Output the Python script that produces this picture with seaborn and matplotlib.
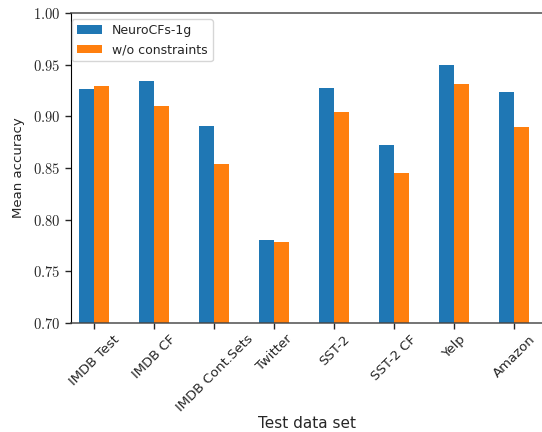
import matplotlib
matplotlib.use("Agg")
import matplotlib.pyplot as plt
import pandas as pd
import seaborn as sns

datasets = ["IMDB Test", "IMDB CF", "IMDB Cont.Sets", "Twitter",
            "SST-2", "SST-2 CF", "Yelp", "Amazon"]
neurocfs = [0.926, 0.934, 0.891, 0.780, 0.927, 0.872, 0.950, 0.924]
no_constraints = [0.929, 0.910, 0.854, 0.778, 0.904, 0.845, 0.931, 0.890]
series_names = ["NeuroCFs-1g", "w/o constraints"]
yticks = [0.70, 0.75, 0.80, 0.85, 0.90, 0.95, 1.00]

df = pd.DataFrame({
    "dataset": datasets * 2,
    "acc": neurocfs + no_constraints,
    "model": [series_names[0]] * len(datasets) + [series_names[1]] * len(datasets),
})

sns.set_style("white")
plt.rcParams["font.family"] = ["DejaVu Sans"]
plt.rcParams["mathtext.fontset"] = "cm"

fig = plt.figure(figsize=(5.42, 4.32), dpi=100)
ax = fig.add_axes([0.131, 0.2523, 0.869, 0.7176])

sns.barplot(data=df, x="dataset", y="acc", hue="model", order=datasets,
            hue_order=series_names, palette=["#1f77b4", "#ff7f0e"],
            width=0.5, saturation=1, linewidth=0, ax=ax)

ax.set_xlim(-0.39, 7.46)
ax.set_ylim(0.70, 1.00)
ax.set_yticks(yticks)
ax.set_yticklabels([f"${v:.2f}$" for v in yticks], fontsize=10.5)
ax.tick_params(axis="x", labelsize=9.5, rotation=45, length=4, width=1,
               direction="out", bottom=True, pad=3)
ax.tick_params(axis="y", length=4, width=1, direction="out", left=True)
for lbl in ax.get_xticklabels():
    lbl.set_ha("center")

ax.set_xlabel("Test data set", fontsize=11, labelpad=1)
ax.set_ylabel("Mean accuracy", fontsize=9.5, labelpad=6)

ax.spines["right"].set_visible(False)
ax.spines["left"].set_color("black")
for side in ["top", "bottom"]:
    ax.spines[side].set_color("#444444")
    ax.spines[side].set_alpha(0.8)
    ax.spines[side].set_linewidth(1.3)
    ax.spines[side].set_zorder(5)

leg = ax.legend(loc="upper left", bbox_to_anchor=(0.002, 0.98), borderaxespad=0,
                fontsize=9, frameon=True, fancybox=True,
                edgecolor="#cccccc", title=None, handlelength=2.0)

fig.savefig("out.png", dpi=100)
